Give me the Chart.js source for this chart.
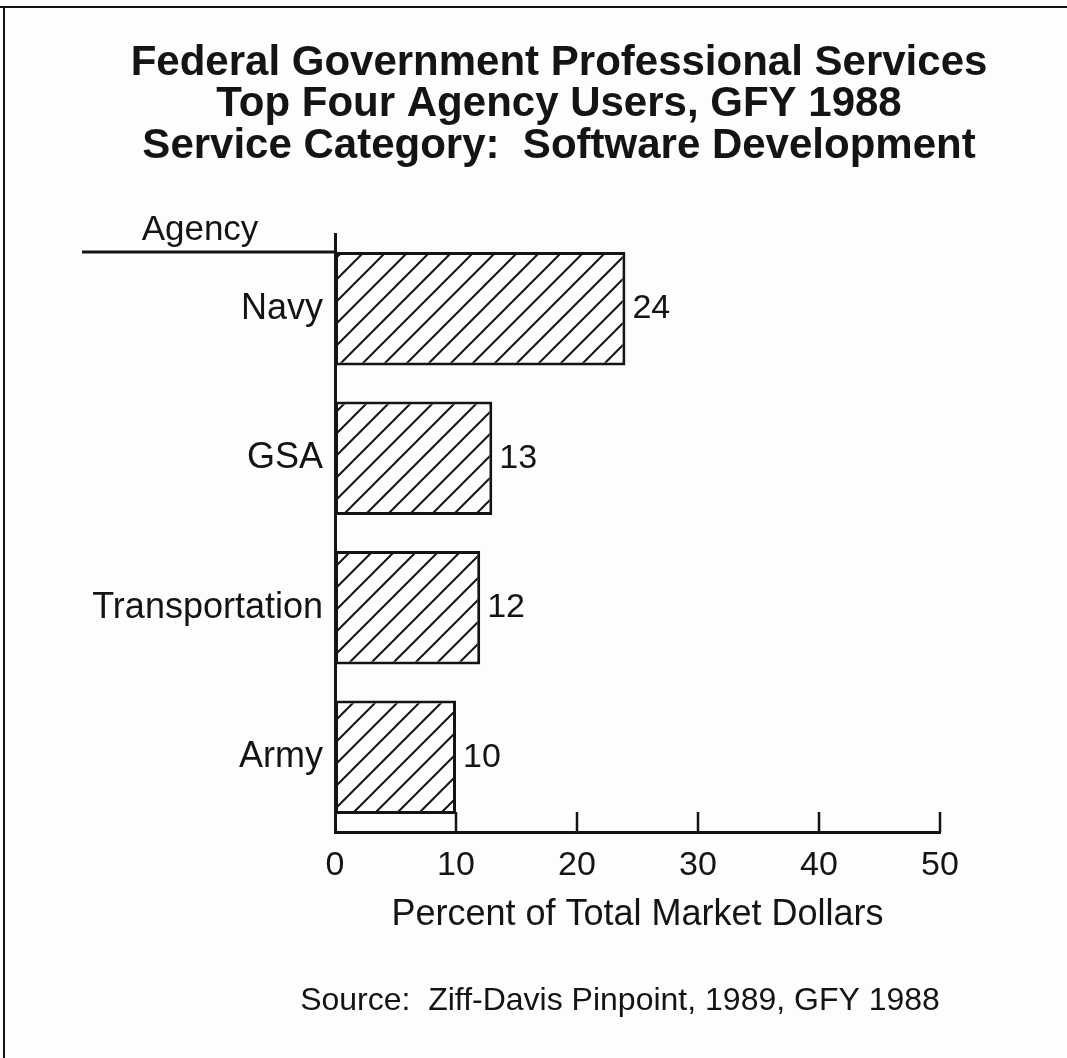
<!DOCTYPE html>
<html>
<head>
<meta charset="utf-8">
<title>Federal Government Professional Services</title>
<script src="https://cdn.jsdelivr.net/npm/chart.js@4/dist/chart.umd.min.js"></script>
<style>
  html, body { margin: 0; padding: 0; background: #fdfdfd; }
  canvas { display: block; }
</style>
</head>
<body>
<canvas id="chart" width="1067" height="1058"></canvas>
<script>
// Chart content
const titleLines = [
  'Federal Government Professional Services',
  'Top Four Agency Users, GFY 1988',
  'Service Category:  Software Development'
];
const agencies = ['Navy', 'GSA', 'Transportation', 'Army'];
const shares = [24, 13, 12, 10];
const xTickValues = [0, 10, 20, 30, 40, 50];
const categoryHeading = 'Agency';
const valueAxisTitle = 'Percent of Total Market Dollars';
const sourceNote = 'Source:  Ziff-Davis Pinpoint, 1989, GFY 1988';

const INK = '#141414';
const FONT = '"Liberation Sans", Arial, Helvetica, sans-serif';

// Diagonal "/" hatching used to fill the bars
function makeHatch() {
  const s = 22;
  const c = document.createElement('canvas');
  c.width = s; c.height = s;
  const g = c.getContext('2d');
  g.fillStyle = '#fdfdfd';
  g.fillRect(0, 0, s, s);
  g.strokeStyle = INK;
  g.lineWidth = 2;
  g.beginPath();
  g.moveTo(-2, s + 2); g.lineTo(s + 2, -2);
  g.moveTo(-2, 2); g.lineTo(2, -2);
  g.moveTo(s - 2, s + 2); g.lineTo(s + 2, s - 2);
  g.stroke();
  return g.createPattern(c, 'repeat');
}

// Frame, headings, heading rule, inward ticks, value labels and source line
const decorations = {
  id: 'decorations',
  beforeDraw(chart) {
    const { ctx } = chart;
    ctx.save();
    ctx.fillStyle = '#fdfdfd';
    ctx.fillRect(0, 0, chart.width, chart.height);
    ctx.restore();
  },
  afterDraw(chart) {
    const { ctx, chartArea, scales } = chart;
    const x = scales.x;
    ctx.save();

    // page frame (top and left edges)
    ctx.strokeStyle = INK;
    ctx.lineWidth = 2;
    ctx.beginPath();
    ctx.moveTo(0, 7); ctx.lineTo(chart.width, 7);
    ctx.moveTo(4, 7); ctx.lineTo(4, chart.height);
    ctx.stroke();

    // title block
    ctx.fillStyle = INK;
    ctx.textAlign = 'center';
    ctx.textBaseline = 'middle';
    ctx.font = 'bold 42px ' + FONT;
    titleLines.forEach((line, i) => ctx.fillText(line, 559, 63 + i * 41.5));

    // category heading and its rule, level with the top of the first bar
    const firstBar = chart.getDatasetMeta(0).data[0];
    const barTop = firstBar.y - firstBar.height / 2;
    ctx.font = '35px ' + FONT;
    ctx.fillText(categoryHeading, 200, barTop - 22);
    ctx.lineWidth = 3;
    ctx.beginPath();
    ctx.moveTo(82, barTop); ctx.lineTo(chartArea.left, barTop);
    ctx.stroke();

    // tick marks pointing up from the value axis
    ctx.lineWidth = 2.5;
    ctx.beginPath();
    xTickValues.slice(1).forEach(v => {
      const px = x.getPixelForValue(v);
      ctx.moveTo(px, chartArea.bottom);
      ctx.lineTo(px, chartArea.bottom - 20);
    });
    ctx.stroke();

    // value labels at the end of each bar
    ctx.textAlign = 'left';
    ctx.font = '34px ' + FONT;
    chart.getDatasetMeta(0).data.forEach((bar, i) => {
      ctx.fillText(String(shares[i]), bar.x + 7, bar.y);
    });

    // source line
    ctx.textAlign = 'center';
    ctx.font = '32px ' + FONT;
    ctx.fillText(sourceNote, 620, 1001);

    ctx.restore();
  }
};

new Chart(document.getElementById('chart'), {
  type: 'bar',
  data: {
    labels: agencies,
    datasets: [{
      data: shares,
      backgroundColor: makeHatch(),
      borderColor: INK,
      borderWidth: 3,
      borderSkipped: false,
      barPercentage: 0.76,
      categoryPercentage: 1
    }]
  },
  options: {
    indexAxis: 'y',
    responsive: false,
    animation: false,
    devicePixelRatio: 1,
    layout: { padding: { top: 234, right: 127, left: 0, bottom: 0 } },
    plugins: {
      legend: { display: false },
      title: { display: false },
      tooltip: { enabled: false }
    },
    scales: {
      x: {
        type: 'linear',
        min: 0,
        max: 50,
        afterBuildTicks(scale) { scale.ticks = xTickValues.map(v => ({ value: v })); },
        afterFit(scale) { scale.height = 226; },
        grid: { display: false, drawTicks: false },
        border: { display: true, color: INK, width: 3 },
        ticks: {
          color: INK,
          padding: 13,
          maxRotation: 0,
          font: { family: FONT, size: 34 }
        },
        title: {
          display: true,
          text: valueAxisTitle,
          color: INK,
          font: { family: FONT, size: 36 },
          padding: { top: 0, bottom: 121 }
        }
      },
      y: {
        afterFit(scale) { scale.width = 335; },
        grid: { display: false, drawTicks: false },
        border: { display: true, color: INK, width: 3 },
        ticks: {
          color: INK,
          padding: 12,
          font: { family: FONT, size: 36 }
        }
      }
    }
  },
  plugins: [decorations]
});
</script>
</body>
</html>
